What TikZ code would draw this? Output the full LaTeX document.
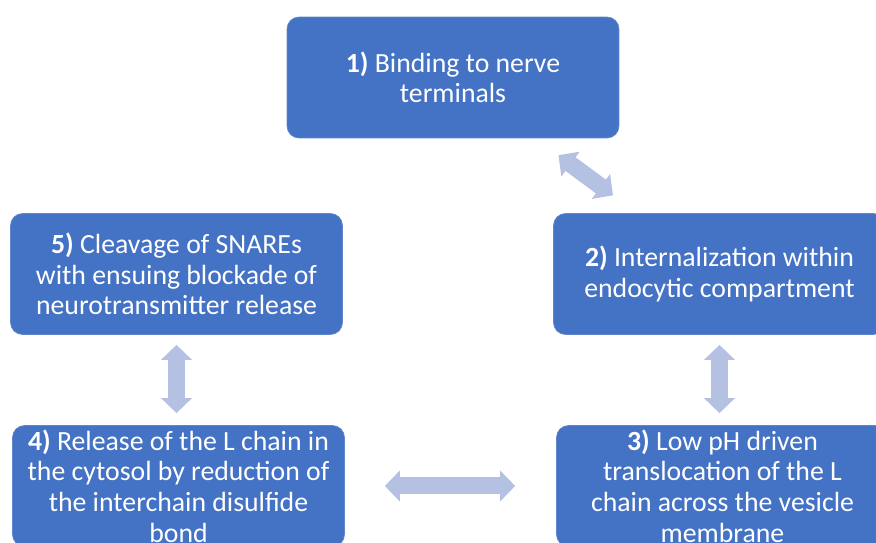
\documentclass[tikz,border=0pt]{standalone}
\usepackage{fontspec}
\setmainfont{Carlito}
\usepackage{xcolor}
\usetikzlibrary{arrows.meta,positioning}
\definecolor{stepblue}{HTML}{4472C4}
\definecolor{arrowblue}{HTML}{B4C1E3}

\begin{document}
\begin{tikzpicture}[x=0.02cm, y=-0.02cm,
    stage/.style={fill=stepblue, draw=stepblue!85!white, rounded corners=0.24cm,
        minimum width=6.64cm, minimum height=2.42cm, inner sep=1pt,
        align=center, text=white, font=\fontsize{15.8}{17.4}\selectfont},
    link/.style={draw=arrowblue, line width=0.34cm,
        {Triangle[length=0.3cm,width=0.6cm]}-{Triangle[length=0.3cm,width=0.6cm]}}]
                                \useasboundingbox (0, 0) rectangle (876, 543);
                                \node[stage] (bind) at (453, 77.5) {\textbf{1)} Binding to nerve\\terminals};
                                \node[stage] (intern) at (719.5, 274) {\textbf{2)} Internalization within\\endocytic compartment};
                                \node[stage] (transl) at (722.5, 486) {\textbf{3)} Low pH driven\\translocation of the L\\chain across the vesicle\\membrane};
                                \node[stage] (release) at (178.5, 486) {\textbf{4)} Release of the L chain in\\the cytosol by reduction of\\the interchain disulfide\\bond};
                                \node[stage] (cleave) at (176.5, 274) {\textbf{5)} Cleavage of SNAREs\\with ensuing blockade of\\neurotransmitter release};
                                \draw
                                (bind) edge[link, shorten <=0.57cm, shorten >=0.6cm] (intern)
                                (intern.south) edge[link, shorten <=0.2cm, shorten >=0.24cm] (intern.south |- transl.north)
                                (release.east) edge[link, shorten <=0.8cm, shorten >=0.82cm] (transl.west)
                                (cleave.south) edge[link, shorten <=0.2cm, shorten >=0.24cm] (cleave.south |- release.north);
                            \end{tikzpicture}
\end{document}
